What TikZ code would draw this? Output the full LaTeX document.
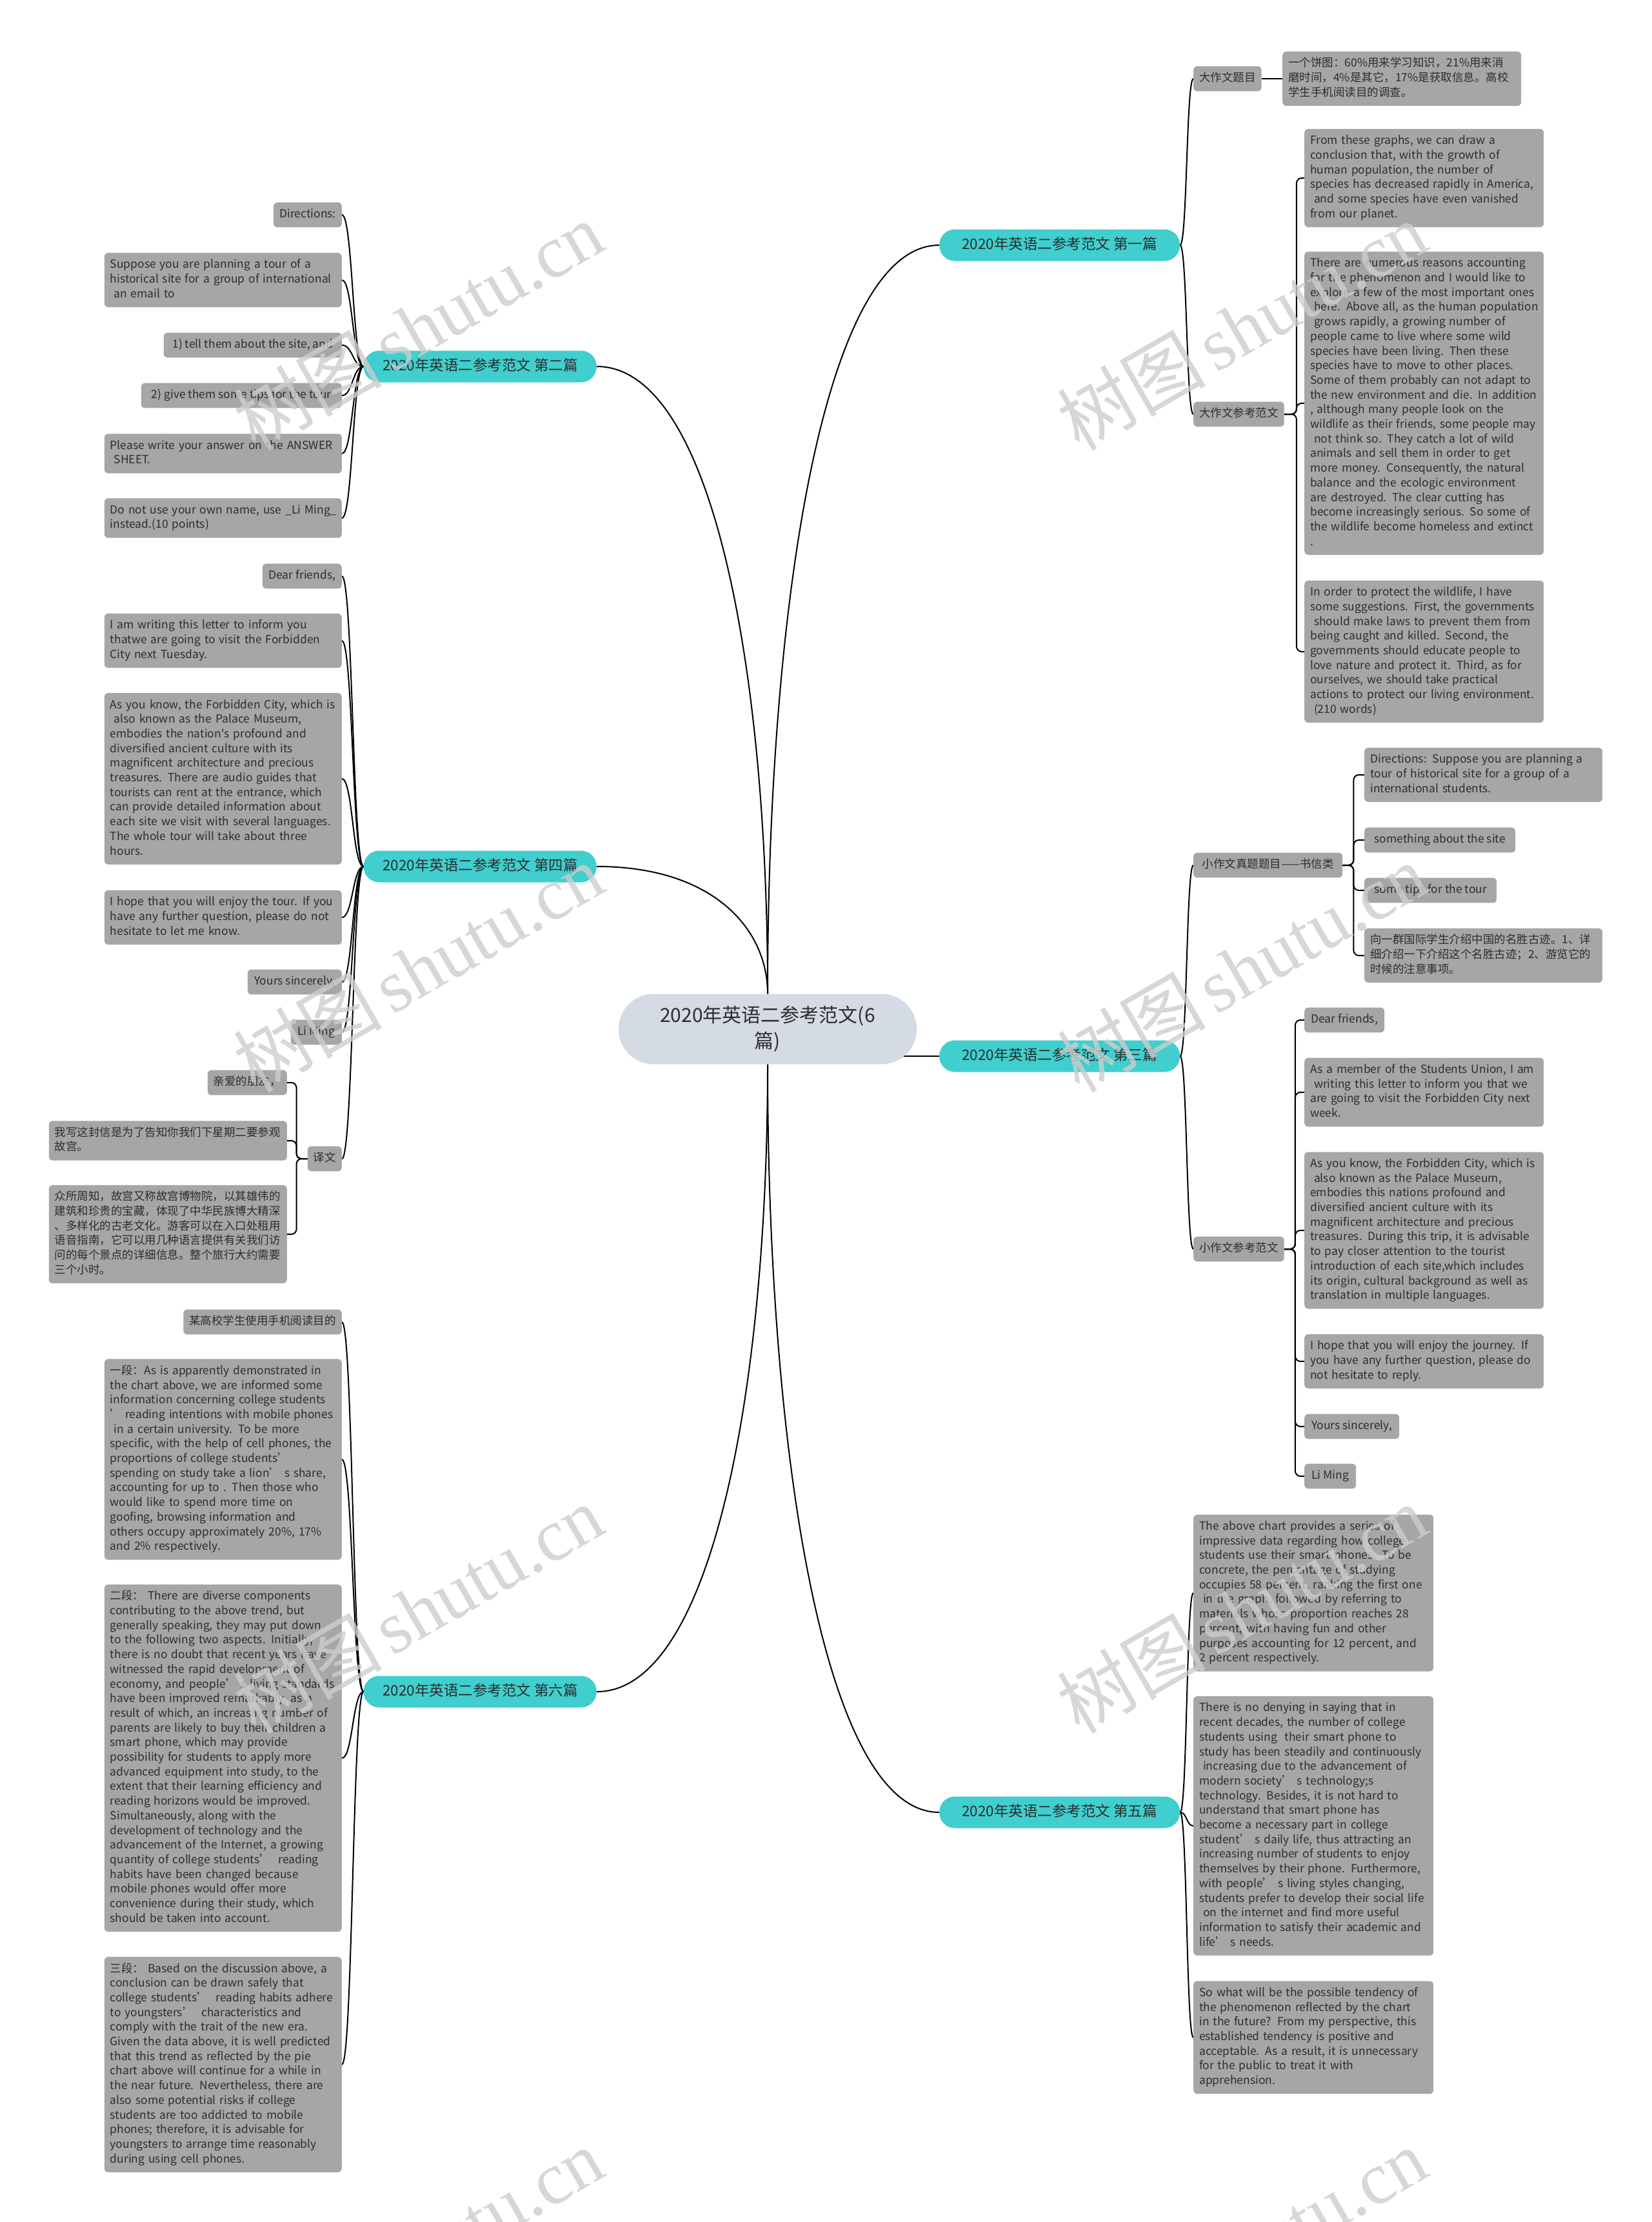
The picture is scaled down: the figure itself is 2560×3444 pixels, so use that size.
\documentclass[tikz,border=0pt]{standalone}
\usepackage{fontspec}
\setmainfont{Noto Sans CJK SC}[Ligatures=TeXOff]
\newfontfamily\wmserif{Liberation Serif}
\usetikzlibrary{calc}
\definecolor{boxg}{RGB}{166,166,166}
\definecolor{txt}{RGB}{45,45,45}
\definecolor{tealc}{RGB}{64,206,206}
\definecolor{rootc}{RGB}{213,219,229}
\definecolor{wmc}{RGB}{205,205,205}
\pgfdeclarelayer{back}
\pgfdeclarelayer{bg}
\pgfsetlayers{back,bg,main}
\hyphenpenalty=10000
\exhyphenpenalty=10000
\tikzset{
  conn/.style={draw=black, line width=2pt},
  box/.style={fill=boxg, text=txt, rounded corners=6pt, inner xsep=9pt, inner ysep=8pt,
    font=\fontsize{17.5}{22.7}\selectfont,
    execute at begin node={\parindent=0pt\leftskip=0pt\rightskip=-40pt plus 1fil\relax\hyphenpenalty=10000\strut},
    execute at end node=\strut},
  leafR/.style={box, anchor=west},
  leafL/.style={box, anchor=east},
  branchR/.style={fill=tealc, text=txt, rounded corners=24pt, minimum height=49pt, minimum width=373pt,
    anchor=west, font=\fontsize{22.5}{27}\selectfont, text height=17pt, text depth=5pt},
  branchL/.style={branchR, minimum width=361pt, anchor=east},
  rootbox/.style={fill=rootc, text=txt, rounded corners=54pt, minimum width=462pt, minimum height=109pt,
    align=center, font=\fontsize{30}{40}\selectfont},
  wm/.style={text=wmc, opacity=0.8, rotate=30, font=\fontsize{115}{120}\selectfont}
}
\begin{document}
\begin{tikzpicture}[x=1pt,y=-1pt]
\begin{pgfonlayer}{back}
\fill[white] (0,0) rectangle (2560,3444);
\end{pgfonlayer}
\useasboundingbox (0,0) rectangle (2560,3444);

% root
\node[rootbox] (c) at (1190,1595) {2020年英语二参考范文(6\\篇)};

% branches
\node[branchR] (b1) at (1456,380) {2020年英语二参考范文 第一篇};
\node[branchR] (b3) at (1456,1637) {2020年英语二参考范文 第三篇};
\node[branchR] (b5) at (1456,2809) {2020年英语二参考范文 第五篇};
\node[branchL] (b2) at (925,568) {2020年英语二参考范文 第二篇};
\node[branchL] (b4) at (925,1343) {2020年英语二参考范文 第四篇};
\node[branchL] (b6) at (925,2622) {2020年英语二参考范文 第六篇};

% ---- branch 1
\node[leafR, minimum width=105pt] (s1a) at (1850,122) {大作文题目};
\node[leafR, minimum width=140pt] (s1b) at (1850,642) {大作文参考范文};
\node[leafR, text width=352pt] (l1a) at (1988,122) {一个饼图：60\%用来学习知识，21\%用来消\\磨时间，4\%是其它，17\%是获取信息。高校\\学生手机阅读目的调查。};
\node[leafR, text width=353pt] (l1b1) at (2022,276) {From these graphs, we can draw a\\conclusion that, with the growth of\\human population, the number of\\species has decreased rapidly in America,\\\ and some species have even vanished\\from our planet.};
\node[leafR, text width=353pt] (l1b2) at (2022,625) {There are numerous reasons accounting\\for the phenomenon and I would like to\\explore a few of the most important ones\\\ here. Above all, as the human population\\\ grows rapidly, a growing number of\\people came to live where some wild\\species have been living. Then these\\species have to move to other places.\\Some of them probably can not adapt to\\the new environment and die. In addition\\, although many people look on the\\wildlife as their friends, some people may\\\ not think so. They catch a lot of wild\\animals and sell them in order to get\\more money. Consequently, the natural\\balance and the ecologic environment\\are destroyed. The clear cutting has\\become increasingly serious. So some of\\the wildlife become homeless and extinct\\.};
\node[leafR, text width=353pt] (l1b3) at (2022,1010) {In order to protect the wildlife, I have\\some suggestions. First, the governments\\\ should make laws to prevent them from\\being caught and killed. Second, the\\governments should educate people to\\love nature and protect it. Third, as for\\ourselves, we should take practical\\actions to protect our living environment.\\\ (210 words)};

% ---- branch 3
\node[leafR, minimum width=231pt] (s3a) at (1850,1341) {小作文真题题目——书信类};
\node[leafR, minimum width=140pt] (s3b) at (1850,1936) {小作文参考范文};
\node[leafR, text width=351pt] (l3a1) at (2115,1201) {Directions: Suppose you are planning a\\tour of historical site for a group of a\\international students.};
\node[leafR, minimum width=234pt] (l3a2) at (2115,1302) {something about the site};
\node[leafR, minimum width=205pt] (l3a3) at (2115,1380) {some tips for the tour};
\node[leafR, text width=351pt] (l3a4) at (2115,1481) {向一群国际学生介绍中国的名胜古迹。1、详\\细介绍一下介绍这个名胜古迹；2、游览它的\\时候的注意事项。};
\node[leafR, minimum width=124pt] (l3b1) at (2022,1581) {Dear friends,};
\node[leafR, text width=353pt] (l3b2) at (2022,1693) {As a member of the Students Union, I am\\\ writing this letter to inform you that we\\are going to visit the Forbidden City next\\week.};
\node[leafR, text width=353pt] (l3b3) at (2022,1907) {As you know, the Forbidden City, which is\\\ also known as the Palace Museum,\\embodies this nations profound and\\diversified ancient culture with its\\magnificent architecture and precious\\treasures. During this trip, it is advisable\\to pay closer attention to the tourist\\introduction of each site,which includes\\its origin, cultural background as well as\\translation in multiple languages.};
\node[leafR, text width=353pt] (l3b4) at (2022,2110) {I hope that you will enjoy the journey. If\\you have any further question, please do\\not hesitate to reply.};
\node[leafR, minimum width=147pt] (l3b5) at (2022,2211) {Yours sincerely,};
\node[leafR, minimum width=80pt] (l3b6) at (2022,2288) {Li Ming};

% ---- branch 5
\node[leafR, text width=354pt] (l5a) at (1850,2469) {The above chart provides a series of\\impressive data regarding how college\\students use their smart phones. To be\\concrete, the percentage of studying\\occupies 58 percent, ranking the first one\\\ in the graph, followed by referring to\\materials whose proportion reaches 28\\percent, with having fun and other\\purposes accounting for 12 percent, and\\2 percent respectively.};
\node[leafR, text width=354pt] (l5b) at (1850,2830) {There is no denying in saying that in\\recent decades, the number of college\\students using\ \ their smart phone to\\study has been steadily and continuously\\\ increasing due to the advancement of\\modern society’\ s technology;s\\technology. Besides, it is not hard to\\understand that smart phone has\\become a necessary part in college\\student’\ s daily life, thus attracting an\\increasing number of students to enjoy\\themselves by their phone. Furthermore,\\with people’\ s living styles changing,\\students prefer to develop their social life\\\ on the internet and find more useful\\information to satisfy their academic and\\life’\ s needs.};
\node[leafR, text width=354pt] (l5c) at (1850,3158) {So what will be the possible tendency of\\the phenomenon reflected by the chart\\in the future? From my perspective, this\\established tendency is positive and\\acceptable. As a result, it is unnecessary\\for the public to treat it with\\apprehension.};

% ---- branch 2
\node[leafL, minimum width=105pt] (l2a) at (530,333) {Directions:};
\node[leafL, text width=350pt] (l2b) at (530,434) {Suppose you are planning a tour of a\\historical site for a group of international\\\ an email to};
\node[leafL, minimum width=276pt] (l2c) at (530,535) {1) tell them about the site, and};
\node[leafL, minimum width=311pt] (l2d) at (530,613) {2) give them some tips for the tour};
\node[leafL, text width=350pt] (l2e) at (530,703) {Please write your answer on the ANSWER\\\ SHEET.};
\node[leafL, text width=350pt] (l2f) at (530,803) {Do not use your own name, use \_Li Ming\_\\instead.(10 points)};

% ---- branch 4
\node[leafL, minimum width=123pt] (l4a) at (530,893) {Dear friends,};
\node[leafL, text width=350pt] (l4b) at (530,993) {I am writing this letter to inform you\\thatwe are going to visit the Forbidden\\City next Tuesday.};
\node[leafL, text width=350pt] (l4c) at (530,1207) {As you know, the Forbidden City, which is\\\ also known as the Palace Museum,\\embodies the nation's profound and\\diversified ancient culture with its\\magnificent architecture and precious\\treasures. There are audio guides that\\tourists can rent at the entrance, which\\can provide detailed information about\\each site we visit with several languages.\\The whole tour will take about three\\hours.};
\node[leafL, text width=350pt] (l4d) at (530,1422) {I hope that you will enjoy the tour. If you\\have any further question, please do not\\hesitate to let me know.};
\node[leafL, minimum width=146pt] (l4e) at (530,1522) {Yours sincerely,};
\node[leafL, minimum width=79pt] (l4f) at (530,1600) {Li Ming};
\node[leafL, minimum width=51pt] (l4g) at (530,1796) {译文};
\node[leafL, minimum width=122pt] (l4g1) at (445,1678) {亲爱的朋友，};
\node[leafL, text width=351pt] (l4g2) at (445,1768) {我写这封信是为了告知你我们下星期二要参观\\故宫。};
\node[leafL, text width=351pt] (l4g3) at (445,1913) {众所周知，故宫又称故宫博物院，以其雄伟的\\建筑和珍贵的宝藏，体现了中华民族博大精深\\、多样化的古老文化。游客可以在入口处租用\\语音指南，它可以用几种语言提供有关我们访\\问的每个景点的详细信息。整个旅行大约需要\\三个小时。};

% ---- branch 6
\node[leafL, minimum width=245pt] (l6a) at (530,2049) {某高校学生使用手机阅读目的};
\node[leafL, text width=350pt] (l6b) at (530,2262) {一段：As is apparently demonstrated in\\the chart above, we are informed some\\information concerning college students\\’\ reading intentions with mobile phones\\\ in a certain university. To be more\\specific, with the help of cell phones, the\\proportions of college students’\\spending on study take a lion’\ s share,\\accounting for up to . Then those who\\would like to spend more time on\\goofing, browsing information and\\others occupy approximately 20\%, 17\%\\and 2\% respectively.};
\node[leafL, text width=350pt] (l6c) at (530,2725) {二段：\ There are diverse components\\contributing to the above trend, but\\generally speaking, they may put down\\to the following two aspects. Initially,\\there is no doubt that recent years have\\witnessed the rapid development of\\economy, and people’\ s living standards\\have been improved remarkably, as a\\result of which, an increasing number of\\parents are likely to buy their children a\\smart phone, which may provide\\possibility for students to apply more\\advanced equipment into study, to the\\extent that their learning efficiency and\\reading horizons would be improved.\\Simultaneously, along with the\\development of technology and the\\advancement of the Internet, a growing\\quantity of college students’\ \ reading\\habits have been changed because\\mobile phones would offer more\\convenience during their study, which\\should be taken into account.};
\node[leafL, text width=350pt] (l6d) at (530,3200) {三段：\ Based on the discussion above, a\\conclusion can be drawn safely that\\college students’\ \ reading habits adhere\\to youngsters’\ \ characteristics and\\comply with the trait of the new era.\\Given the data above, it is well predicted\\that this trend as reflected by the pie\\chart above will continue for a while in\\the near future. Nevertheless, there are\\also some potential risks if college\\students are too addicted to mobile\\phones; therefore, it is advisable for\\youngsters to arrange time reasonably\\during using cell phones.};

% ---- connectors
\begin{pgfonlayer}{bg}
\draw[conn] (c.north) .. controls +(0,-592) and +(-181,0) .. (b1.west);
\draw[conn] (c.north) .. controls +(0,-500) and +(180,0) .. (b2.east);
\draw[conn] (c.north) .. controls +(0,-101) and +(180,0) .. (b4.east);
\draw[conn] (c.center |- b3.west) -- (b3.west);
\draw[conn] (c.south) .. controls +(0,591) and +(-181,0) .. (b5.west);
\draw[conn] (c.south) .. controls +(0,496) and +(180,0) .. (b6.east);
\foreach \n in {s1a,s1b} \draw[conn] (b1.east) .. controls +(11,0) and +(-11,0) .. (\n.west);
\foreach \n in {s3a,s3b} \draw[conn] (b3.east) .. controls +(11,0) and +(-11,0) .. (\n.west);
\foreach \n in {l5a,l5b,l5c} \draw[conn] (b5.east) .. controls +(11,0) and +(-11,0) .. (\n.west);
\foreach \n in {l2a,l2b,l2c,l2d,l2e,l2f} \draw[conn] (b2.west) .. controls +(-17,0) and +(17,0) .. (\n.east);
\foreach \n in {l4a,l4b,l4c,l4d,l4e,l4f,l4g} \draw[conn] (b4.west) .. controls +(-17,0) and +(17,0) .. (\n.east);
\foreach \n in {l6a,l6b,l6c,l6d} \draw[conn] (b6.west) .. controls +(-17,0) and +(17,0) .. (\n.east);
\draw[conn] (s1a.east) -- (l1a.west);
\foreach \n in {l1b1,l1b2,l1b3} \draw[conn, rounded corners=8pt] (s1b.east) -- ++(19,0) |- (\n.west);
\foreach \n in {l3a1,l3a2,l3a3,l3a4} \draw[conn, rounded corners=8pt] (s3a.east) -- ++(17,0) |- (\n.west);
\foreach \n in {l3b1,l3b2,l3b3,l3b4,l3b5,l3b6} \draw[conn, rounded corners=8pt] (s3b.east) -- ++(17,0) |- (\n.west);
\foreach \n in {l4g1,l4g2,l4g3} \draw[conn, rounded corners=8pt] (l4g.west) -- ++(-17,0) |- (\n.east);
\end{pgfonlayer}

% ---- watermarks
\foreach \i/\px/\py in {1/648/505, 2/1925/505, 3/648/1500, 4/1925/1500, 5/648/2494, 6/1925/2494, 7/648/3491, 8/1925/3491}
  \node[wm] (wm\i) at (\px,\py) {树图\hspace{15pt}{\wmserif shutu.cn}};
\end{tikzpicture}
\end{document}
